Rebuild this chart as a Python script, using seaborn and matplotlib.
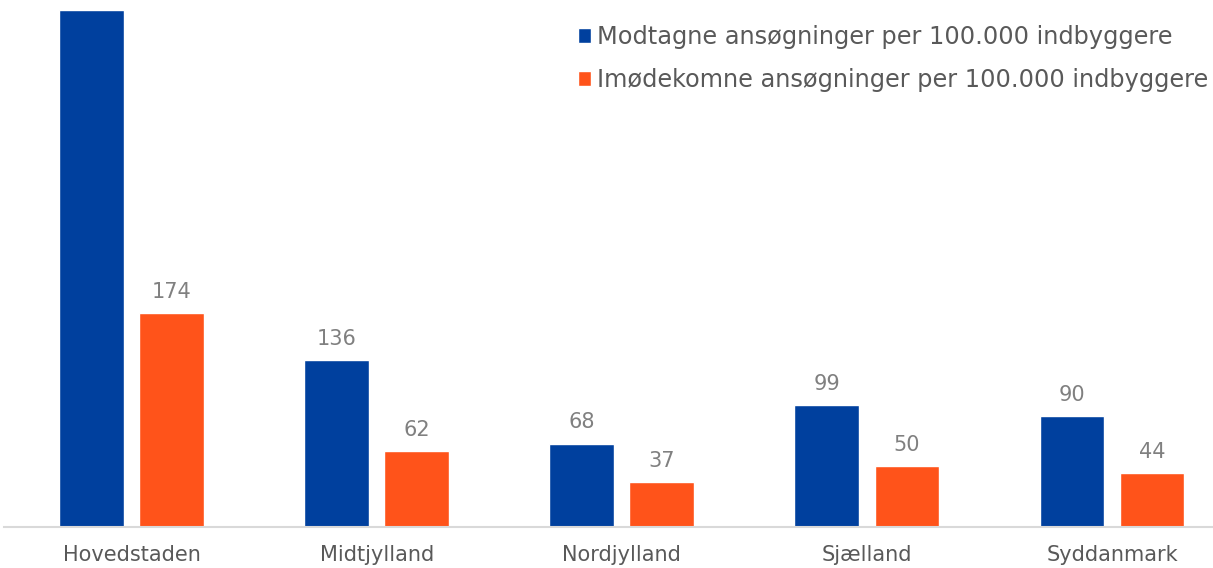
import pandas as pd
import matplotlib
matplotlib.use("Agg")
import matplotlib.pyplot as plt
import seaborn as sns

regioner = ["Hovedstaden", "Midtjylland", "Nordjylland", "Sjælland", "Syddanmark"]
modtagne = [421, 136, 68, 99, 90]
imoedekomne = [174, 62, 37, 50, 44]
serie_navne = ["Modtagne ansøgninger per 100.000 indbyggere",
               "Imødekomne ansøgninger per 100.000 indbyggere"]
farver = ["#00409E", "#FF531A"]

df = pd.DataFrame({
    "Region": regioner * 2,
    "Værdi": modtagne + imoedekomne,
    "Serie": [serie_navne[0]] * len(regioner) + [serie_navne[1]] * len(regioner),
})

sns.set_theme(style="white")
plt.rcParams["font.family"] = ["DejaVu Sans"]

fig = plt.figure(figsize=(12.13, 5.68), dpi=100)
ax = fig.add_axes([0.003, 0.072, 0.997, 0.928])

sns.barplot(data=df, x="Region", y="Værdi", hue="Serie", palette=farver,
            width=0.653, gap=0.19, saturation=1, ax=ax)

ytop = 428.8
ax.set_ylim(0, ytop)
ax.set_xlim(-0.522, 4.412)

# øverste søjle går ud over toppen, så den får ingen etiket
for cont in ax.containers:
    vals = [b.get_height() for b in cont]
    labels = [f"{v:.0f}" if v < ytop - 30 else "" for v in vals]
    ax.bar_label(cont, labels=labels, padding=8, color="#808080", fontsize=15)

for s in ["top", "right", "left"]:
    ax.spines[s].set_visible(False)
ax.spines["bottom"].set_color("#D9D9D9")
ax.spines["bottom"].set_linewidth(1.5)
ax.set_yticks([])
ax.set_xlabel("")
ax.set_ylabel("")
ax.tick_params(axis="x", length=0, pad=13, labelsize=15, labelcolor="#595959")

leg = ax.legend(loc="upper right", bbox_to_anchor=(1.0, 0.962), frameon=False,
                fontsize=17.3, handlelength=0.55, handleheight=0.55, handletextpad=0.25,
                labelspacing=0.8, borderpad=0.2, borderaxespad=0)
for t in leg.get_texts():
    t.set_color("#595959")

fig.savefig("out.png", dpi=100)
